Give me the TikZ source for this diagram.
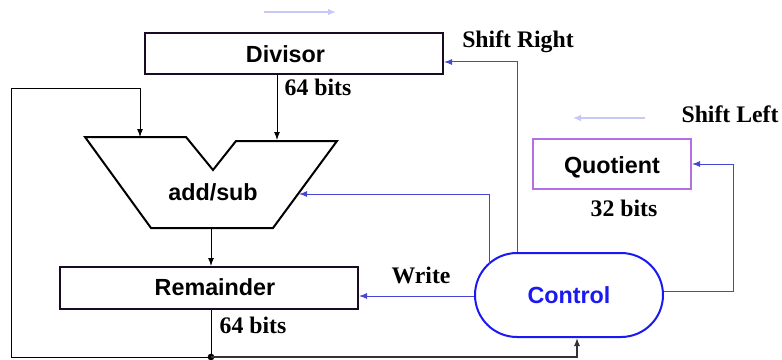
\documentclass[tikz,border=0pt]{standalone}
\usepackage{fontspec}
\setmainfont{Liberation Serif}
\setsansfont{Liberation Sans}
\usetikzlibrary{arrows.meta,calc}
\definecolor{ctlblue}{HTML}{1A1AF0}
\definecolor{wireblue}{HTML}{4646D2}
\definecolor{qpurple}{HTML}{B46EE6}
\definecolor{faint}{HTML}{C8C8F8}
\definecolor{regedge}{HTML}{1A0A22}
\tikzset{
  reg/.style={draw=regedge, line width=1.5pt, rectangle, inner sep=0pt,
    minimum width=223.5pt, font=\sffamily\bfseries\fontsize{17.5}{20}\selectfont},
  lbl/.style={font=\rmfamily\bfseries\fontsize{17.8}{20}\selectfont, inner sep=0pt},
  wire/.style={draw=black, line width=0.75pt, -{Latex[length=6pt,width=4.5pt]}},
  ctlwire/.style={draw=wireblue, line width=0.75pt, -{Latex[length=6pt,width=4.5pt]}},
  hint/.style={draw=faint, line width=1pt, -{Latex[length=6pt,width=5pt]}}
}
\begin{document}
\begin{tikzpicture}[x=0.75pt, y=-0.75pt]
\useasboundingbox (0,0) rectangle (782,360);

% registers
\node[reg, minimum height=30.75pt] (divisor) at (294,53.5) {};
\node[font=\sffamily\bfseries\fontsize{17.5}{20}\selectfont] (divtext) at (285.5,54) {Divisor};
\node[reg, minimum height=31.5pt] (remainder) at (209,288) {};
\node[font=\sffamily\bfseries\fontsize{17.5}{20}\selectfont] (remtext) at (215,287) {Remainder};
\node[reg, draw=qpurple, minimum width=118.5pt, minimum height=37.5pt] (quotient) at (612,164) {};
\node[font=\sffamily\bfseries\fontsize{17.5}{20}\selectfont] (quotext) at (612,167) {Quotient};

% control unit
\node[draw=ctlblue, line width=1.5pt, rectangle, rounded corners=31.5pt,
  minimum width=141pt, minimum height=63pt, text=ctlblue,
  font=\sffamily\bfseries\fontsize{17.5}{20}\selectfont] (control) at (569,295) {Control};

% adder / subtractor
\draw[line width=1.5pt, line join=miter]
  (85,137) -- (186,137) -- (213,170) -- (236,141) -- (337,141)
  -- (273,228) -- (151,228) -- cycle;
\node[font=\sffamily\bfseries\fontsize{17.5}{20}\selectfont] (alu) at (213,192) {add/sub};
\coordinate (aluL) at (140,137);
\coordinate (aluR) at (277,140);
\coordinate (aluS) at (299,194);
\coordinate (aluB) at (211,228);

% datapath
\draw[wire] (divisor.south -| aluR) -- (aluR);
\draw[wire] (aluB) -- (aluB |- remainder.north);
\coordinate (junc) at (211,357);
\draw[line width=0.75pt] (remainder.south -| junc) -- (junc);
\fill (junc) circle (2.5pt);
\draw[draw=black, line width=0.75pt, -{Latex[length=6pt,width=4.5pt]}]
  (junc) -- (11,357) -- (11,89) -- (140,89) -- (aluL);
\draw[draw=black!80, line width=1pt, -{Latex[length=6pt,width=4.5pt]}]
  (junc) -- (577,357) -- (577,357 |- control.south);

% control lines
\coordinate (cA) at (489,264);
\draw[ctlwire] (control.north -| 517,0) -- (517,62) -- (divisor.east |- 0,62);
\draw[ctlwire] (cA) -- (489,194) -- (aluS);
\draw[ctlwire] (control.west |- 0,296) -- (remainder.east |- 0,296);
\draw[ctlwire] (control.east |- 0,291) -- (733,291) -- (733,164) -- (quotient.east |- 0,164);

% labels
\node[lbl] (lblsr) at (518,42) {Shift Right};
\node[lbl] (lbld) at (318,87) {64 bits};
\node[lbl] (lblsl) at (730,114) {Shift Left};
\node[lbl] (lblq) at (624,208) {32 bits};
\node[lbl] (lblw) at (421,275) {Write};
\node[lbl] (lblr) at (253,325) {64 bits};

% shift direction hints
\coordinate (h1a) at (264,12);
\coordinate (h1b) at (336,12);
\coordinate (h2a) at (645,118);
\coordinate (h2b) at (573,118);
\draw[hint] (h1a) -- (h1b);
\draw[hint] (h2a) -- (h2b);
\end{tikzpicture}
\end{document}
